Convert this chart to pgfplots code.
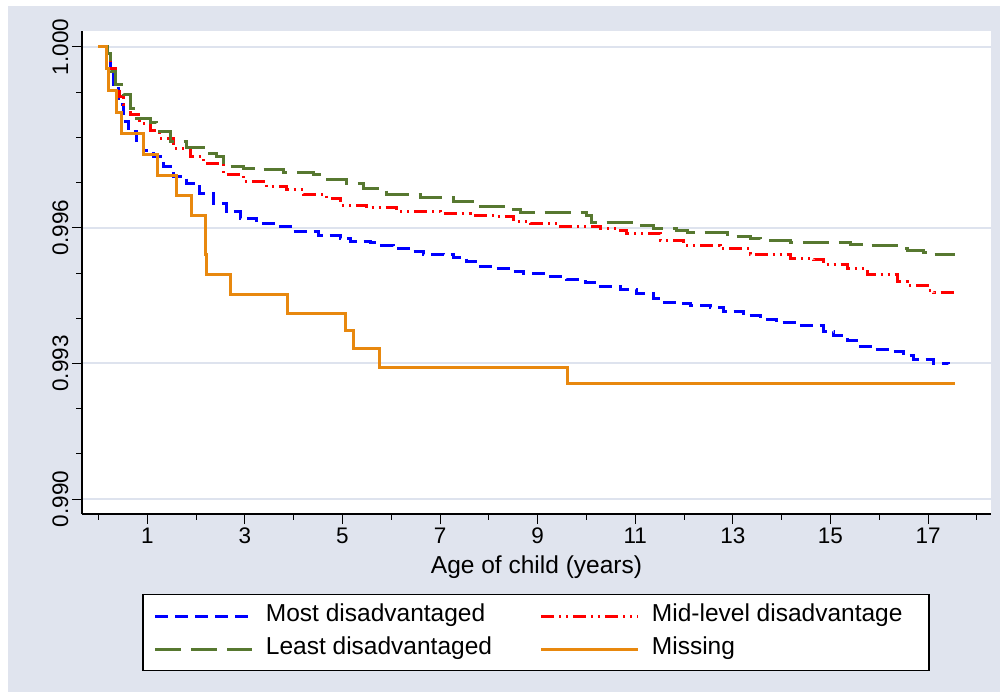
\documentclass[border=0pt]{standalone}
\usepackage{pgfplots}
\pgfplotsset{compat=1.18}
\usepackage{fontspec}
\setmainfont{Liberation Sans}
\definecolor{bgc}{RGB}{224,228,238}
\definecolor{gridc}{RGB}{222,227,238}
\definecolor{cblue}{RGB}{0,0,255}
\definecolor{cred}{RGB}{255,0,0}
\definecolor{cgreen}{RGB}{87,120,48}
\definecolor{corange}{RGB}{232,136,14}
\newcommand{\ff}{\fontsize{24.5}{29}\selectfont}
\newcommand{\ft}{\fontsize{22.5}{27}\selectfont}
\begin{document}
\begin{tikzpicture}
\useasboundingbox (0pt,0pt) rectangle (1006pt,698pt);
\fill[bgc] (8pt,6pt) rectangle (1000pt,692pt);
\begin{axis}[
  at={(82pt,184pt)}, anchor=south west,
  scale only axis, width=909pt, height=483pt,
  xmin=-0.338, xmax=18.29,
  ymin=0.98967, ymax=1.000354,
  axis x line*=bottom, axis y line*=left,
  axis line style={black, line width=1.2pt, -},
  axis background/.style={fill=white},
  xtick={1,3,...,17}, minor xtick={0,2,...,18},
  ytick={0.990,0.993,0.996,1.000},
  yticklabels={0.990,0.993,0.996,1.000},
  minor ytick={0.991,0.992,0.994,0.995,0.997,0.998,0.999},
  tick align=outside,
  major tick length=10pt, minor tick length=6pt,
  every tick/.style={black, line width=1pt},
  every minor tick/.style={black, line width=1pt},
  ymajorgrids, major grid style={draw=gridc, line width=2pt},
  /pgf/number format/assume math mode=true,
  tick label style={font=\ft},
  yticklabel style={rotate=90, anchor=south},
  xlabel={Age of child (years)},
  xlabel style={font=\ff, at={(axis description cs:0.5,-0.1242)}, anchor=base},
  legend columns=2,
  legend image code/.code={\draw[#1] (0pt,0pt) -- (97pt,0pt);},
  legend style={at={(axis description cs:0.4994,-0.1656)}, anchor=north,
    draw=black, line width=1.2pt, fill=white, inner xsep=11pt, inner ysep=11pt,
    column sep=12pt, /tikz/every even column/.append style={column sep=0pt},
    row sep=12pt, cells={anchor=west},
    nodes={inner sep=0pt, text height=16pt, text depth=5pt}, font=\ff},
]
\addplot[const plot, cblue, line width=3pt, dash pattern=on 13pt off 7pt] coordinates {
(0,1.00000) (0.17,0.99985) (0.24,0.99954) (0.30,0.99916) (0.41,0.99872)
(0.51,0.99835) (0.61,0.99813) (0.78,0.99794) (0.92,0.99772) (1.12,0.99757)
(1.33,0.99735) (1.53,0.99713) (1.81,0.99698) (2.08,0.99676) (2.35,0.99654)
(2.63,0.99636) (2.90,0.99621) (3.24,0.99610) (3.65,0.99603) (3.93,0.99591)
(4.50,0.99582) (4.95,0.99577) (5.16,0.99569) (5.57,0.99567) (5.77,0.99562)
(6.04,0.99555) (6.45,0.99547) (6.66,0.99542) (7.07,0.99540) (7.27,0.99534)
(7.55,0.99525) (7.82,0.99514) (8.16,0.99510) (8.50,0.99503) (8.71,0.99499)
(9.26,0.99493) (9.60,0.99486) (9.97,0.99479) (10.28,0.99470) (10.69,0.99464)
(11.03,0.99455) (11.37,0.99444) (11.51,0.99435) (11.85,0.99433) (12.13,0.99429)
(12.54,0.99424) (12.81,0.99414) (13.22,0.99405) (13.56,0.99398) (13.90,0.99390)
(14.31,0.99385) (14.66,0.99383) (14.86,0.99370) (15.07,0.99361) (15.34,0.99350)
(15.54,0.99338) (15.89,0.99330) (16.16,0.99326) (16.50,0.99317) (16.71,0.99308)
(17.12,0.99300) (17.42,0.99299)};
\addlegendentry{\makebox[274pt][l]{Most disadvantaged}}
\addplot[const plot, cred, line width=3pt, dash pattern=on 13pt off 5pt on 2pt off 5pt on 2pt off 5pt] coordinates {
(0,1.00000) (0.17,0.99985) (0.24,0.99953) (0.34,0.99916) (0.44,0.99890)
(0.51,0.99872) (0.65,0.99850) (0.85,0.99831) (1.06,0.99816) (1.26,0.99798)
(1.53,0.99776) (1.88,0.99757) (2.15,0.99743) (2.56,0.99717) (2.97,0.99702)
(3.45,0.99691) (3.86,0.99684) (4.20,0.99674) (4.68,0.99665) (4.95,0.99650)
(5.50,0.99644) (6.11,0.99637) (7.00,0.99631) (7.62,0.99628) (8.16,0.99625)
(8.50,0.99614) (8.85,0.99610) (9.46,0.99603) (10.28,0.99599) (10.69,0.99595)
(10.83,0.99588) (11.51,0.99573) (11.99,0.99562) (12.74,0.99555) (13.36,0.99542)
(13.49,0.99540) (14.18,0.99533) (14.66,0.99529) (14.86,0.99518) (15.34,0.99510)
(15.75,0.99496) (16.37,0.99481) (16.57,0.99473) (16.98,0.99462) (17.12,0.99456)
(17.56,0.99450)};
\addlegendentry{\makebox[266pt][l]{Mid-level disadvantage}}
\addplot[const plot, cgreen, line width=3pt, dash pattern=on 26pt off 10pt] coordinates {
(0,1.00000) (0.18,0.99985) (0.24,0.99945) (0.34,0.99916) (0.51,0.99894)
(0.65,0.99864) (0.78,0.99842) (1.06,0.99833) (1.19,0.99813) (1.47,0.99790)
(1.81,0.99777) (2.15,0.99765) (2.42,0.99757) (2.56,0.99735) (2.97,0.99732)
(3.38,0.99728) (3.79,0.99723) (4.40,0.99717) (4.61,0.99707) (5.09,0.99698)
(5.43,0.99687) (5.91,0.99673) (6.59,0.99667) (7.27,0.99658) (7.82,0.99647)
(8.50,0.99641) (8.64,0.99633) (10.01,0.99628) (10.11,0.99611) (10.96,0.99606)
(11.37,0.99599) (11.85,0.99594) (12.06,0.99589) (12.88,0.99580) (13.36,0.99577)
(13.56,0.99572) (14.18,0.99567) (15.41,0.99564) (15.68,0.99560) (16.50,0.99555)
(16.57,0.99549) (16.91,0.99545) (16.98,0.99540) (17.56,0.99540)};
\addlegendentry{\makebox[274pt][l]{Least disadvantaged}}
\addplot[const plot, corange, line width=3pt] coordinates {
(0,1.00000) (0.16,0.99952) (0.215,0.99903) (0.36,0.99856) (0.48,0.99808)
(0.92,0.99763) (1.21,0.99716) (1.60,0.99671) (1.91,0.99628) (2.19,0.99540)
(2.21,0.99497) (2.70,0.99452) (3.88,0.99411) (5.07,0.99372) (5.22,0.99332)
(5.76,0.99291) (9.61,0.99256) (17.56,0.99256)};
\addlegendentry{\makebox[266pt][l]{Missing}}
\end{axis}
\end{tikzpicture}
\end{document}
